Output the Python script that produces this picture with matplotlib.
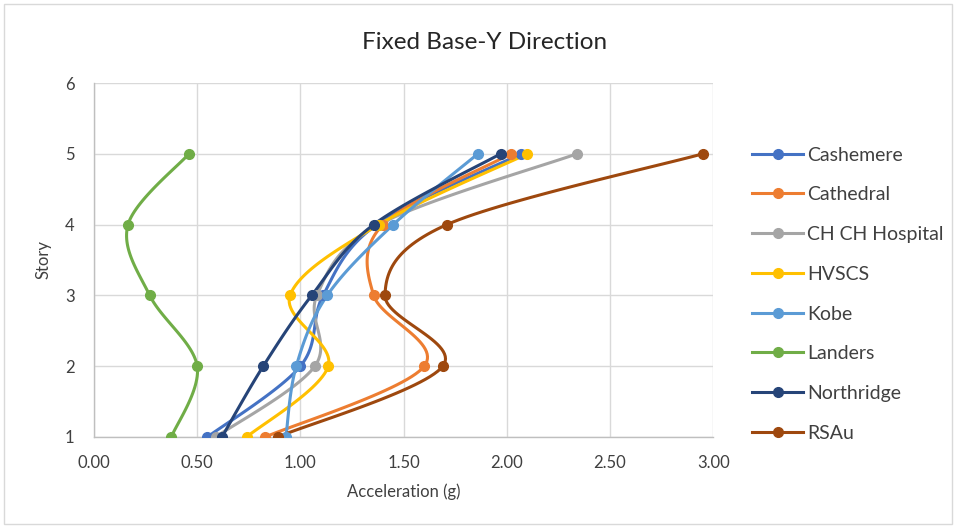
import matplotlib
matplotlib.use("Agg")
import matplotlib.pyplot as plt
import numpy as np

plt.rcParams['font.family'] = ['Lato', 'DejaVu Sans']

stories = [1, 2, 3, 4, 5]
names = ['Cashemere', 'Cathedral', 'CH CH Hospital', 'HVSCS', 'Kobe',
         'Landers', 'Northridge', 'RSAu']
cashemere = [0.55, 1.00, 1.11, 1.37, 2.07]
cathedral = [0.83, 1.60, 1.355, 1.40, 2.02]
chch_hospital = [0.59, 1.07, 1.08, 1.38, 2.34]
hvscs = [0.74, 1.135, 0.95, 1.38, 2.10]
kobe = [0.93, 0.98, 1.13, 1.45, 1.86]
landers = [0.375, 0.50, 0.27, 0.165, 0.46]
northridge = [0.62, 0.82, 1.055, 1.355, 1.97]
rsau = [0.89, 1.69, 1.41, 1.71, 2.95]
series = [cashemere, cathedral, chch_hospital, hvscs, kobe, landers,
          northridge, rsau]
colors = ['#4472C4', '#ED7D31', '#A5A5A5', '#FFC000', '#5B9BD5',
          '#70AD47', '#264478', '#9E480E']


def smooth(x, y, n=30):
    # Excel-like smoothing: cubic Bezier with Catmull-Rom control points
    x = np.asarray(x, float)
    y = np.asarray(y, float)
    px = np.concatenate([[x[0]], x, [x[-1]]])
    py = np.concatenate([[y[0]], y, [y[-1]]])
    xs, ys = [], []
    t = np.linspace(0, 1, n)
    for i in range(1, len(x)):
        p0 = np.array([px[i], py[i]])
        p3 = np.array([px[i + 1], py[i + 1]])
        c1 = p0 + (p3 - np.array([px[i - 1], py[i - 1]])) / 6
        c2 = p3 - (np.array([px[i + 2], py[i + 2]]) - p0) / 6
        b = ((1 - t) ** 3)[:, None] * p0 + (3 * (1 - t) ** 2 * t)[:, None] * c1 \
            + (3 * (1 - t) * t ** 2)[:, None] * c2 + (t ** 3)[:, None] * p3
        xs.extend(b[:, 0])
        ys.extend(b[:, 1])
    return xs, ys


fig = plt.figure(figsize=(9.56, 5.27), dpi=100)
ax = fig.add_axes([0.0983, 0.1708, 0.6477, 0.6717])

for name, vals, c in zip(names, series, colors):
    sx, sy = smooth(vals, stories)
    ax.plot(sx, sy, color=c, lw=2.2, zorder=3)
    ax.plot(vals, stories, 'o', color=c, ms=7, zorder=4)
    ax.plot([], [], '-o', color=c, lw=2.2, ms=7, label=name)

ax.set_xlim(0, 3)
ax.set_ylim(1, 6)
ax.set_xticks(np.arange(0, 3.01, 0.5))
ax.set_xticklabels(['%.2f' % v for v in np.arange(0, 3.01, 0.5)])
ax.set_yticks(range(1, 7))
ax.grid(True, color='#D9D9D9', lw=1)
ax.set_axisbelow(True)
for s in ['top', 'right']:
    ax.spines[s].set_visible(False)
for s in ['left', 'bottom']:
    ax.spines[s].set_color('#BFBFBF')
    ax.spines[s].set_linewidth(1)
ax.tick_params(length=0, labelsize=12, colors='#404040')
ax.tick_params(axis='x', pad=13)
ax.tick_params(axis='y', pad=14)
ax.set_xlabel('Acceleration (g)', fontsize=12, color='#404040', labelpad=9)
ax.set_ylabel('Story', fontsize=12, color='#404040', labelpad=10)
fig.text(0.507, 0.92, 'Fixed Base-Y Direction', ha='center', va='center',
         fontsize=17.5, color='#262626')

ax.legend(loc='upper left', bbox_to_anchor=(1.035, 0.87), frameon=False,
          fontsize=14, labelspacing=1.17, handlelength=2.6,
          handletextpad=0.2, labelcolor='#404040')

fig.patches.append(plt.Rectangle((0.004, 0.006), 0.992, 0.986,
                                 transform=fig.transFigure, fill=False,
                                 edgecolor='#D9D9D9', lw=1))
fig.savefig('out.png', dpi=100)
